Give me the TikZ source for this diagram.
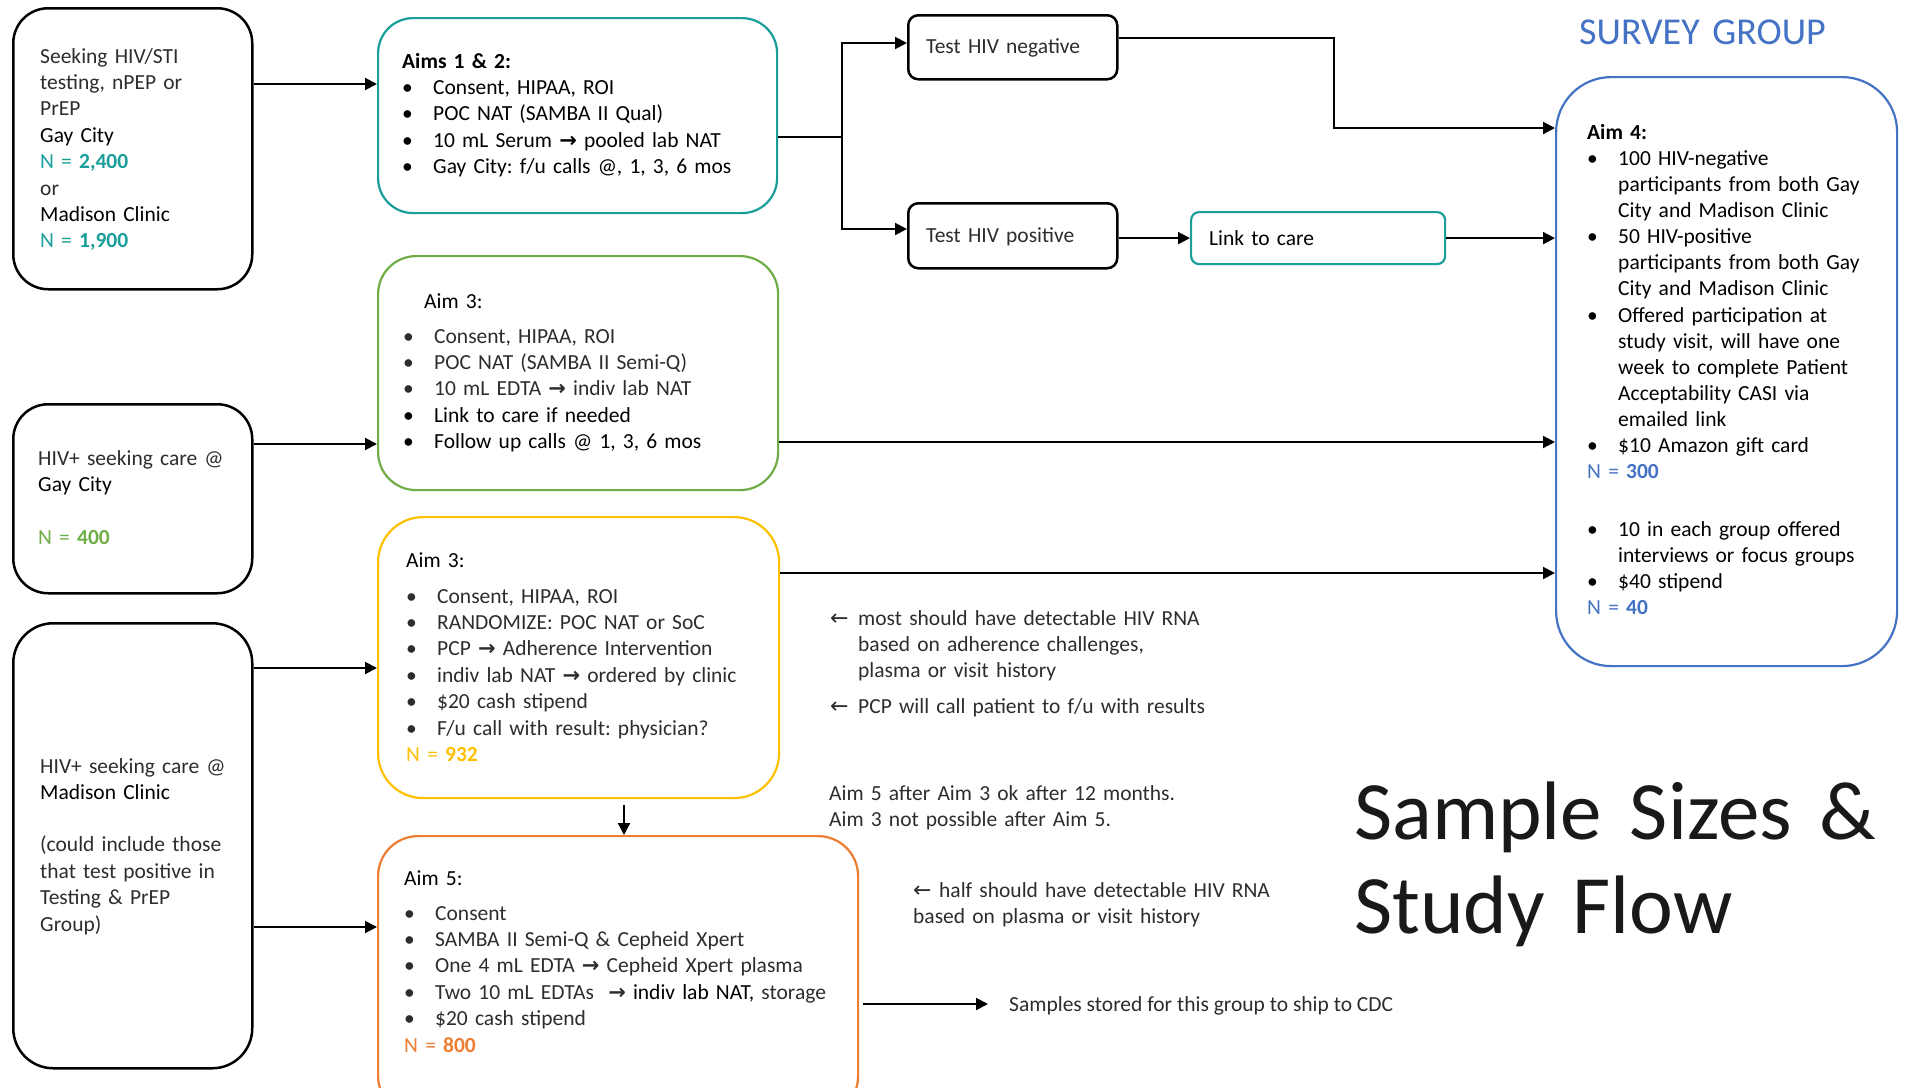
\documentclass[tikz,border=0pt]{standalone}
\usepackage{fontspec}
\setmainfont{Carlito}
\newfontfamily\arrfont{DejaVu Sans}
\usetikzlibrary{arrows.meta}
\frenchspacing
\definecolor{teal1}{RGB}{26,158,154}
\definecolor{grn}{RGB}{112,173,71}
\definecolor{ylw}{RGB}{255,192,0}
\definecolor{org}{RGB}{237,125,49}
\definecolor{blu}{RGB}{68,114,196}
\definecolor{lt}{RGB}{45,45,45}
\newcommand\fs{\fontsize{21.5}{26.4}\selectfont}
\newcommand\itm[1][31pt]{\makebox[#1][l]{•}}
\newcommand\cnt[1][31pt]{\hspace*{#1}}
\newcommand\ra{{\arrfont\bfseries\fontsize{21}{21}\selectfont →}}
\newcommand\la{{\arrfont\fontsize{22}{22}\selectfont ←}}
\tikzset{
  box/.style={draw, line width=2.5pt, inner sep=0pt, anchor=north west},
  txt/.style={inner sep=0pt, anchor=base west, align=left, text width=560pt, font=\fs, text=lt},
  ln/.style={line width=2pt},
  arr/.style={line width=2pt, -{Triangle[length=12pt,width=12pt]}},
}
\begin{document}
\begin{tikzpicture}[x=1pt,y=-1pt]
\useasboundingbox (0,0) rectangle (1906,1087);
\clip (0,0) rectangle (1906,1087);
\fill[white] (0,0) rectangle (1906,1087);

% boxes
\node[box, rounded corners=35pt, minimum width=239pt, minimum height=281pt] (src1) at (12,7) {};
\node[box, rounded corners=35pt, minimum width=239pt, minimum height=189pt] (src2) at (12,403) {};
\node[box, rounded corners=40pt, minimum width=239pt, minimum height=445pt] (src3) at (12,622) {};
\node[box, draw=teal1, line width=2.2pt, rounded corners=35pt, minimum width=399pt, minimum height=195pt] (aims12) at (377,17) {};
\node[box, draw=grn, line width=2.2pt, rounded corners=38pt, minimum width=400pt, minimum height=234pt] (aim3g) at (377,255) {};
\node[box, draw=ylw, line width=2.2pt, rounded corners=45pt, minimum width=401pt, minimum height=281pt] (aim3y) at (377,516) {};
\node[box, draw=org, line width=2.2pt, rounded corners=40pt, minimum width=480pt, minimum height=280pt] (aim5) at (377,835) {};
\node[box, rounded corners=10pt, minimum width=209pt, minimum height=64pt] (testneg) at (907,14) {};
\node[box, rounded corners=10pt, minimum width=209pt, minimum height=65pt] (testpos) at (907,202) {};
\node[box, draw=teal1, line width=2.2pt, rounded corners=8pt, minimum width=254pt, minimum height=52pt] (link) at (1190,211) {};
\node[box, draw=blu, line width=2.2pt, rounded corners=55pt, minimum width=341pt, minimum height=589pt] (aim4) at (1555,76) {};

% texts
\node[txt] (t1) at (40,63) {Seeking HIV/STI\\ testing, nPEP or\\ PrEP\\ {\color{black}Gay City}\\ {\color{teal1}N = \textbf{2,400}}\\ or\\ {\color{black}Madison Clinic}\\ {\color{teal1}N = \textbf{1,900}}};
\node[txt] (t2) at (38,465) {HIV+ seeking care @\\ {\color{black}Gay City}\\[26.4pt] {\color{grn}N = \textbf{400}}};
\node[txt] (t3) at (40,773) {HIV+ seeking care @\\ {\color{black}Madison Clinic}\\[26pt] (could include those\\ that test positive in\\ Testing \& PrEP\\ Group)};
\node[txt, text=black] (t12) at (402,68) {\textbf{Aims 1 \& 2:}\\ \itm Consent, HIPAA, ROI\\ \itm POC NAT (SAMBA II Qual)\\ \itm 10 mL Serum \ra{} pooled lab NAT\\ \itm Gay City: f/u calls @, 1, 3, 6 mos};
\node[txt] (t3g) at (403,308) {\hspace*{21pt}{\color{black}Aim 3:}\\[8.6pt] \itm Consent, HIPAA, ROI\\ \itm POC NAT (SAMBA II Semi-Q)\\ \itm 10 mL EDTA \ra{} indiv lab NAT\\ {\color{black}\itm Link to care if needed}\\ {\color{black}\itm Follow up calls @ 1, 3, 6 mos}};
\node[txt] (t3y) at (406,567) {{\color{black}Aim 3:}\\[9.6pt] \itm Consent, HIPAA, ROI\\ \itm RANDOMIZE: POC NAT or SoC\\ \itm PCP \ra{} Adherence Intervention\\ \itm indiv lab NAT \ra{} ordered by clinic\\ \itm \$20 cash stipend\\ \itm F/u call with result: physician?\\ {\color{ylw}N = \textbf{932}}};
\node[txt] (t5) at (404,885) {{\color{black}Aim 5:}\\[8.6pt] \itm Consent\\ \itm SAMBA II Semi-Q \& Cepheid Xpert\\ \itm One 4 mL EDTA \ra{} Cepheid Xpert plasma\\ \itm Two 10 mL EDTAs \ \ra{} {\color{black}indiv lab NAT,} storage\\ \itm \$20 cash stipend\\ {\color{org}N = \textbf{800}}};
\node[txt, text=black, font=\fontsize{21.5}{26.15}\selectfont] (t4) at (1587,139) {\textbf{Aim 4:}\\ \itm 100 HIV-negative\\ \cnt participants from both Gay\\ \cnt City and Madison Clinic\\ \itm 50 HIV-positive\\ \cnt participants from both Gay\\ \cnt City and Madison Clinic\\ \itm Offered participation at\\ \cnt study visit, will have one\\ \cnt week to complete Patient\\ \cnt Acceptability CASI via\\ \cnt emailed link\\ \itm \$10 Amazon gift card\\ {\color{blu}N = \textbf{300}}\\[31pt] \itm 10 in each group offered\\ \cnt interviews or focus groups\\ \itm \$40 stipend\\ {\color{blu}N = \textbf{40}}};
\node[txt] (tneg) at (926,53) {Test HIV negative};
\node[txt] (tpos) at (926,242) {Test HIV positive};
\node[txt, text=black] (tlink) at (1209,245) {Link to care};

\node[txt] (n1) at (830,625) {\makebox[28pt][l]{\la}most should have detectable HIV RNA\\ \hspace*{28pt}based on adherence challenges,\\ \hspace*{28pt}plasma or visit history};
\node[txt] (n2) at (830,713) {\makebox[28pt][l]{\la}PCP will call patient to f/u with results};
\node[txt] (n3) at (829,800) {Aim 5 after Aim 3 ok after 12 months.\\ Aim 3 not possible after Aim 5.};
\node[txt] (n4) at (913,897) {\makebox[26pt][l]{\la}half should have detectable HIV RNA\\ based on plasma or visit history};
\node[inner sep=0pt, anchor=west, font=\fs, text=lt] (samples) at (1009,1006) {Samples stored for this group to ship to CDC};

\node[txt, font=\fontsize{83}{94}\selectfont, text=black!90] (title) at (1354,839) {Sample Sizes \&\\ Study Flow};
\node[txt, font=\fontsize{38}{42}\selectfont, text=blu] (survey) at (1579,44) {SURVEY GROUP};

% connectors
\draw[arr] (src1.east |- 0,84) -- (aims12.west |- 0,84);
\coordinate (br) at (842,137);
\draw[ln] (aims12.east |- br) -- (br);
\draw[arr] (br) |- (testneg.west |- 0,43);
\draw[arr] (br) |- (testpos.west |- 0,229);
\draw[arr] (testneg.east |- 0,38) -| (1334,128) -- (aim4.west |- 0,128);
\draw[arr] (testpos.east |- link.west) -- (link.west);
\draw[arr] (link.east) -- (aim4.west |- link.east);
\draw[arr] (src2.east |- 0,444) -- (aim3g.west |- 0,444);
\draw[arr] (aim3g.east |- 0,442) -- (aim4.west |- 0,442);
\draw[arr] (src3.east |- 0,668) -- (aim3y.west |- 0,668);
\draw[arr] (aim3y.east |- 0,573) -- (aim4.west |- 0,573);
\draw[arr] (src3.east |- 0,927) -- (aim5.west |- 0,927);
\coordinate (dn) at (624,805);
\draw[arr] (dn) -- (dn |- aim5.north);
\draw[arr, shorten <=4pt, shorten >=21pt] (aim5.east |- 0,1004) -- (samples.west |- 0,1004);
\end{tikzpicture}
\end{document}
